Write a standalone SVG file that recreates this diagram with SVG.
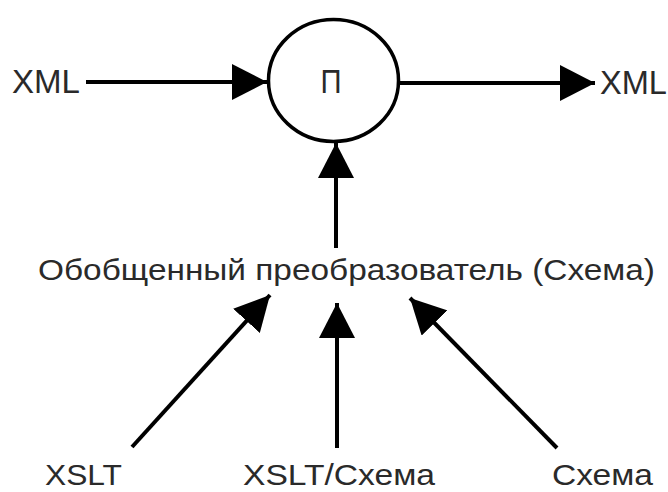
<svg xmlns="http://www.w3.org/2000/svg" width="668" height="492" viewBox="0 0 668 492">
  <style>
    .lbl { font-family: "Liberation Sans", Arial, sans-serif; fill: #2a2a2a; }
    .edge { stroke: #000; stroke-width: 4; fill: none; marker-end: url(#head); }
    .node { fill: #fff; stroke: #000; stroke-width: 3.5; }
  </style>
  <defs>
    <marker id="head" viewBox="0 0 35 36" refX="35" refY="18" markerWidth="35" markerHeight="36" markerUnits="userSpaceOnUse" orient="auto">
      <path d="M0,0 L35,18 L0,36 z" fill="#000"/>
    </marker>
  </defs>
  <rect width="668" height="492" fill="#fff"/>

  <g id="connectors">
    <line class="edge" x1="86" y1="82" x2="267" y2="82"/>
    <line class="edge" x1="400" y1="83" x2="595" y2="83"/>
    <line class="edge" x1="336" y1="248" x2="336" y2="143"/>
    <line class="edge" x1="132" y1="447" x2="270" y2="295"/>
    <line class="edge" x1="337" y1="448" x2="337" y2="303"/>
    <line class="edge" x1="557" y1="448" x2="410" y2="298"/>
  </g>

  <g id="xml-in">
    <text class="lbl" x="12" y="93" font-size="33" textLength="68" lengthAdjust="spacingAndGlyphs">XML</text>
  </g>
  <g id="processor">
    <ellipse class="node" cx="333.5" cy="80.5" rx="65" ry="61"/>
    <text class="lbl" x="331" y="93" font-size="33" text-anchor="middle" textLength="21" lengthAdjust="spacingAndGlyphs">П</text>
  </g>
  <g id="xml-out">
    <text class="lbl" x="600" y="94" font-size="33" textLength="67" lengthAdjust="spacingAndGlyphs">XML</text>
  </g>
  <g id="generic-transformer">
    <text class="lbl" x="38" y="280" font-size="29" textLength="617" lengthAdjust="spacingAndGlyphs">Обобщенный преобразователь (Схема)</text>
  </g>
  <g id="xslt">
    <text class="lbl" x="45" y="485" font-size="30" textLength="77" lengthAdjust="spacingAndGlyphs">XSLT</text>
  </g>
  <g id="xslt-schema">
    <text class="lbl" x="243" y="485" font-size="30" textLength="192" lengthAdjust="spacingAndGlyphs">XSLT/Схема</text>
  </g>
  <g id="schema">
    <text class="lbl" x="552" y="485" font-size="30" textLength="101" lengthAdjust="spacingAndGlyphs">Схема</text>
  </g>
</svg>
